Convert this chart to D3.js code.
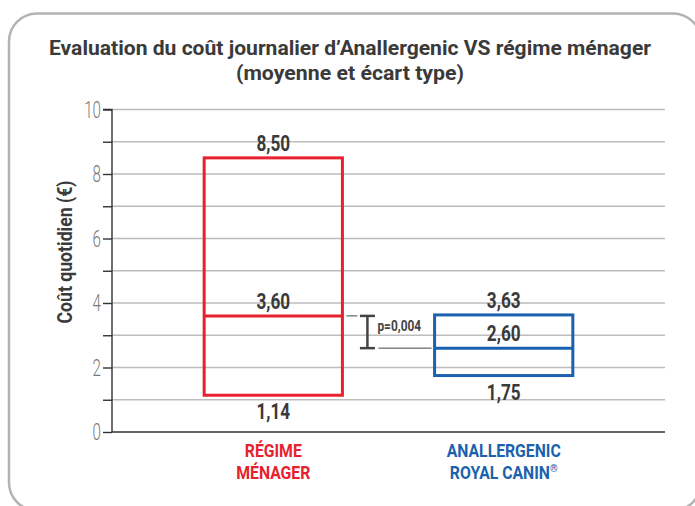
<!DOCTYPE html>
<html><head><meta charset="utf-8">
<script src="https://cdn.jsdelivr.net/npm/d3@7"></script>
<style>body{margin:0;background:#fff}svg{display:block}</style>
</head><body>
<svg id="c" width="695" height="506"></svg>
<script>
const categories = ["RÉGIME MÉNAGER", "ANALLERGENIC ROYAL CANIN®"];
const catLines = [["RÉGIME", "MÉNAGER"], ["ANALLERGENIC", "ROYAL CANIN®"]];
const means = [3.60, 2.60];
const lows = [1.14, 1.75];
const highs = [8.50, 3.63];
const colors = ["#e8212e", "#1a62ae"];
const yTicks = [0, 2, 4, 6, 8, 10];
const pValue = "p=0,004";
const titleLines = ["Evaluation du coût journalier d’Anallergenic VS régime ménager", "(moyenne et écart type)"];
const yLabel = "Coût quotidien (€)";

const FN = "Roboto,'DejaVu Sans',sans-serif";
const svg = d3.select("#c");
const fmt = v => v.toFixed(2).replace(".", ",");

// condensed text helper
function ctext(parent, xx, yy, txt, opts) {
  const g = parent.append("g").attr("transform", `translate(${xx},${yy})${opts.rotate ? " rotate(" + opts.rotate + ")" : ""} scale(${opts.sx || 0.78},1)`);
  const t = g.append("text").attr("x", 0).attr("y", 0).attr("text-anchor", opts.anchor || "middle")
    .attr("font-family", FN).attr("font-weight", opts.weight || "bold").attr("font-size", opts.size)
    .attr("fill", opts.fill || "#3a3a3a");
  if (opts.dy) t.attr("dy", opts.dy);
  if (txt.endsWith("®")) {
    t.append("tspan").text(txt.slice(0, -1));
    t.append("tspan").attr("font-size", opts.size * 0.62).attr("dy", -opts.size * 0.38).text("®");
  } else t.text(txt);
  return t;
}

// panel
svg.append("rect").attr("x", 9).attr("y", 13.5).attr("width", 692).attr("height", 497)
  .attr("rx", 28).attr("fill", "none").attr("stroke", "#b3b3b3").attr("stroke-width", 2.5);

// title
titleLines.forEach((t, i) => {
  svg.append("text").attr("x", 350).attr("y", 55 + i * 25).attr("text-anchor", "middle")
    .attr("font-family", FN).attr("font-weight", "bold")
    .attr("font-size", 20).attr("fill", "#3a3a3a").text(t)
    .attr("textLength", i === 0 ? 602 : 228).attr("lengthAdjust", "spacingAndGlyphs");
});

const x0 = 112, x1 = 665;
const y = d3.scaleLinear().domain([0, 10]).range([432, 109.5]);
const x = d3.scaleBand().domain(categories).range([x0, x1]).paddingInner(0.4).paddingOuter(0.4);

// gridlines
svg.append("g").selectAll("line").data(d3.range(1, 11)).join("line")
  .attr("x1", x0).attr("x2", x1).attr("y1", d => y(d)).attr("y2", d => y(d))
  .attr("stroke", "#bdbdbd").attr("stroke-width", 1.3);

// y axis
const yAxis = d3.axisLeft(y).tickValues(d3.range(0, 11)).tickSize(9).tickFormat("");
const ga = svg.append("g").attr("transform", `translate(${x0},0)`).call(yAxis);
ga.select(".domain").attr("stroke", "#333").attr("stroke-width", 1.4).attr("d", `M-9,${y(10)}H0V${y(0)}`);
ga.selectAll(".tick line").attr("stroke", "#333").attr("stroke-width", 1.4);
yTicks.forEach(v => ctext(svg, x0 - 11, y(v), String(v), { size: 23, weight: 300, fill: "#7a7a7a", anchor: "end", dy: "0.36em", sx: 0.66 }));

// baseline
svg.append("line").attr("x1", x0).attr("x2", x1).attr("y1", y(0)).attr("y2", y(0))
  .attr("stroke", "#333").attr("stroke-width", 1.6);

// y label
ctext(svg, 72, 252, yLabel, { size: 21, rotate: -90, sx: 0.84 });

// boxes
const boxes = svg.append("g");
categories.forEach((c, i) => {
  const bx = x(c), bw = x.bandwidth();
  boxes.append("rect").attr("x", bx).attr("y", y(highs[i])).attr("width", bw)
    .attr("height", y(lows[i]) - y(highs[i])).attr("fill", "none")
    .attr("stroke", colors[i]).attr("stroke-width", 3);
  boxes.append("line").attr("x1", bx).attr("x2", bx + bw).attr("y1", y(means[i])).attr("y2", y(means[i]))
    .attr("stroke", colors[i]).attr("stroke-width", 3);
  const cx = bx + bw / 2;
  ctext(boxes, cx, y(highs[i]) - 7, fmt(highs[i]), { size: 22 });
  ctext(boxes, cx, y(means[i]) - 7, fmt(means[i]), { size: 22 });
  ctext(boxes, cx, y(lows[i]) + 24, fmt(lows[i]), { size: 22 });
  catLines[i].forEach((t, k) => ctext(boxes, cx, 457 + k * 22, t, { size: 19, fill: colors[i], sx: 0.83 }));
});

// p-value bracket
const bracket = svg.append("g").attr("stroke", "#444");
const r0 = x(categories[0]) + x.bandwidth(), b0 = x(categories[1]);
bracket.append("line").attr("x1", r0 + 4).attr("x2", r0 + 15).attr("y1", y(means[0])).attr("y2", y(means[0])).attr("stroke-width", 1);
const bxp = r0 + 25;
bracket.append("line").attr("x1", bxp).attr("x2", bxp).attr("y1", y(means[0])).attr("y2", y(means[1])).attr("stroke-width", 2.5);
[means[0], means[1]].forEach(v => bracket.append("line").attr("x1", bxp - 7.5).attr("x2", bxp + 7.5)
  .attr("y1", y(v)).attr("y2", y(v)).attr("stroke-width", 2.5));
bracket.append("line").attr("x1", bxp + 11).attr("x2", b0 - 3).attr("y1", y(means[1])).attr("y2", y(means[1])).attr("stroke-width", 1);
ctext(svg, bxp + 10, 330.5, pValue, { size: 14.5, anchor: "start", fill: "#444", sx: 0.82 });
</script>
</body></html>
